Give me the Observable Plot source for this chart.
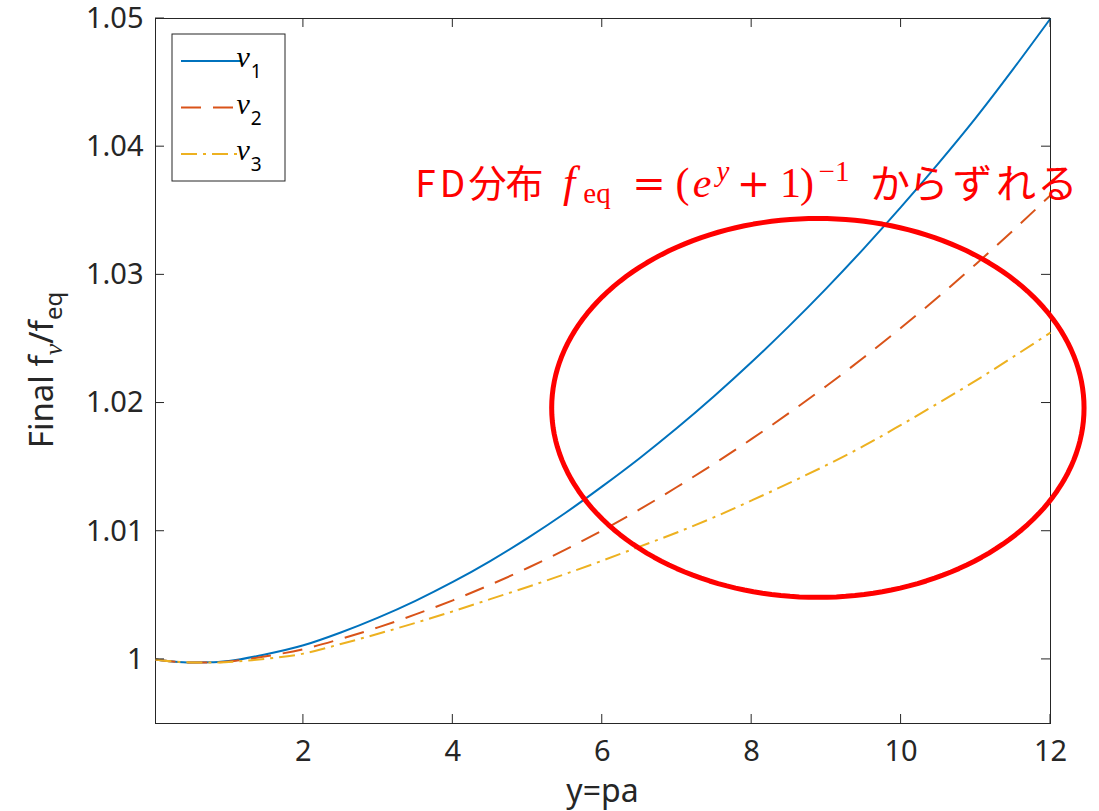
<!DOCTYPE html>
<html><head><meta charset="utf-8">
<script src="https://cdn.jsdelivr.net/npm/d3@7"></script>
<script src="https://cdn.jsdelivr.net/npm/@observablehq/plot@0.6"></script>
<style>html,body{margin:0;padding:0;background:#fff}#chart svg{display:block}</style>
</head><body><div id="chart"></div>
<script>
// ---- data ----
const xs  = [0.02, 0.25, 0.5, 0.75, 1, 1.5, 2, 2.5, 3, 3.5, 4, 4.5, 5, 5.5, 6, 6.5, 7, 7.5, 8, 8.5, 9, 9.5, 10, 10.5, 11, 11.5, 12];
const nu1 = [1.00000, 0.99984, 0.99976, 0.99977, 0.99988, 1.00040, 1.00110, 1.00210, 1.00326, 1.00457, 1.00604, 1.00767, 1.00946, 1.01140, 1.01350, 1.01570, 1.01805, 1.02055, 1.02320, 1.02600, 1.02895, 1.03205, 1.03530, 1.03870, 1.04225, 1.04605, 1.05000];
const nu2 = [1.00000, 0.99984, 0.99976, 0.99976, 0.99984, 1.00025, 1.00080, 1.00160, 1.00250, 1.00351, 1.00461, 1.00582, 1.00713, 1.00854, 1.01006, 1.01170, 1.01345, 1.01528, 1.01720, 1.01922, 1.02133, 1.02355, 1.02587, 1.02829, 1.03083, 1.03347, 1.03621];
const nu3 = [1.00000, 0.99984, 0.99976, 0.99975, 0.99980, 1.00005, 1.00045, 1.00120, 1.00200, 1.00285, 1.00375, 1.00470, 1.00565, 1.00665, 1.00770, 1.00880, 1.00990, 1.01110, 1.01240, 1.01375, 1.01515, 1.01665, 1.01830, 1.02000, 1.02175, 1.02360, 1.02550];
const seriesNames = ["ν1", "ν2", "ν3"];
const seriesSubs  = ["1", "2", "3"];
const seriesColors = ["#0072BD", "#D95319", "#EDB120"];
const seriesDash = [null, "20,12", "16,6,3,6"];
const xTicks = [2, 4, 6, 8, 10, 12];
const xTickLabels = ["2", "4", "6", "8", "10", "12"];
const yTicks = [1, 1.01, 1.02, 1.03, 1.04, 1.05];
const yTickLabels = ["1", "1.01", "1.02", "1.03", "1.04", "1.05"];
const xDomain = [0.02, 12];
const yDomain = [0.995, 1.05];
// highlight ellipse (data units): centre and radii
const ellipseCenter = [8.886, 1.01962];
const ellipseRadii = [3.563, 0.01478];

// ---- tables ----
const allSeries = [nu1, nu2, nu3];
const rows = allSeries.map((vals, k) => xs.map((x, i) => ({series: seriesNames[k], x, y: vals[i]})));
const ellipsePts = d3.range(0, 361, 2).map(a => {
  const t = a * Math.PI / 180;
  return {x: ellipseCenter[0] + ellipseRadii[0] * Math.cos(t), y: ellipseCenter[1] + ellipseRadii[1] * Math.sin(t)};
});

const AX = "#262626";
const SANS = "'Noto Sans', 'Liberation Sans', sans-serif";
const SERIF = "'Liberation Serif', 'DejaVu Serif', serif";
const SERIF2 = "'DejaVu Serif', 'Liberation Serif', serif";
const CJK = "'Noto Sans CJK JP', 'Noto Sans', sans-serif";

const plot = Plot.plot({
  width: 1099, height: 811,
  marginLeft: 155, marginRight: 49, marginTop: 18, marginBottom: 88,
  style: {fontFamily: SANS, fontSize: "29px", color: AX, background: "#fff", overflow: "visible"},
  x: {domain: xDomain, label: null},
  y: {domain: yDomain, label: null},
  marks: [
    Plot.frame({stroke: AX, strokeWidth: 1}),
    Plot.axisX(xTicks, {tickSize: 0, tickPadding: 17, tickFormat: d => xTickLabels[xTicks.indexOf(d)], fontSize: 29, fill: AX, label: null}),
    Plot.axisY(yTicks, {tickSize: 0, tickPadding: 12, tickFormat: d => yTickLabels[yTicks.indexOf(d)], fontSize: 29, fill: AX, label: null}),
    ...rows.map((r, k) => Plot.line(r, {x: "x", y: "y", stroke: seriesColors[k], strokeWidth: 2, strokeDasharray: seriesDash[k], strokeLinecap: "butt", curve: "monotone-x"})),
    Plot.line(ellipsePts, {x: "x", y: "y", stroke: "#FF0000", strokeWidth: 5})
  ]
});
document.getElementById("chart").appendChild(plot);

const svg = d3.select(plot);
const sx = plot.scale("x"), sy = plot.scale("y");
const L = sx.apply(xDomain[0]), R = sx.apply(xDomain[1]);
const B = sy.apply(yDomain[0]), T = sy.apply(yDomain[1]);
const tk = 9;
const g = svg.append("g").attr("stroke", AX).attr("stroke-width", 1);
xTicks.forEach(v => {
  const X = sx.apply(v);
  g.append("line").attr("x1", X).attr("x2", X).attr("y1", B).attr("y2", B - tk);
  g.append("line").attr("x1", X).attr("x2", X).attr("y1", T).attr("y2", T + tk);
});
yTicks.forEach(v => {
  const Y = sy.apply(v);
  g.append("line").attr("x1", L).attr("x2", L + tk).attr("y1", Y).attr("y2", Y);
  g.append("line").attr("x1", R).attr("x2", R - tk).attr("y1", Y).attr("y2", Y);
});

// legend
const lg = svg.append("g");
lg.append("rect").attr("x", 172).attr("y", 34).attr("width", 113).attr("height", 147)
  .attr("fill", "#fff").attr("stroke", AX).attr("stroke-width", 1);
seriesNames.forEach((n, k) => {
  const yy = 61 + k * 46.5;
  lg.append("line").attr("x1", 181).attr("x2", 242).attr("y1", yy).attr("y2", yy)
    .attr("stroke", seriesColors[k]).attr("stroke-width", 2).attr("stroke-dasharray", seriesDash[k]);
  const t = lg.append("text").attr("x", 249).attr("y", yy + 6).attr("fill", "#000");
  t.append("tspan").attr("font-family", SERIF).attr("font-style", "italic").attr("font-size", 30).text("ν");
  t.append("tspan").attr("font-family", SANS).attr("font-size", 19).attr("dy", 11).attr("dx", 1).text(seriesSubs[k]);
});

// axis labels
svg.append("text").attr("x", (L + R) / 2).attr("y", 802).attr("text-anchor", "middle")
  .attr("font-family", SANS).attr("font-size", 32).attr("fill", AX).text("y=pa");
const yl = svg.append("text").attr("transform", "translate(53,370) rotate(-90)").attr("text-anchor", "middle")
  .attr("font-family", SANS).attr("font-size", 33).attr("fill", AX);
yl.append("tspan").text("Final f");
yl.append("tspan").attr("font-family", SERIF).attr("font-style", "italic").attr("font-size", 26).attr("dy", 9).text("ν");
yl.append("tspan").attr("dy", -9).text("/f");
yl.append("tspan").attr("font-size", 24).attr("dy", 9).text("eq");

// annotation
const an = svg.append("text").attr("fill", "#FF0000").attr("y", 197).attr("text-anchor", "middle");
const seg = (txt, x, y, fam, size, italic) => {
  const s = an.append("tspan").attr("x", x).attr("y", y).attr("font-family", fam).attr("font-size", size).text(txt);
  if (italic) s.attr("font-style", "italic");
  return s;
};
seg("F", 425.5, 197, CJK, 37);
seg("D", 452.5, 197, CJK, 37);
seg("分", 487.5, 197, CJK, 38);
seg("布", 524.5, 197, CJK, 38);
seg("f", 569, 197, SERIF, 44, true);
seg("eq", 597, 203, SERIF, 29);
seg("=", 649, 197, SERIF2, 40);
seg("(", 682.5, 197, SERIF, 42);
seg("e", 702, 197, SERIF, 42, true);
seg("y", 723, 181, SERIF, 29, true);
seg("+", 753.5, 197, SERIF2, 40);
seg("1", 790.5, 197, SERIF, 42);
seg(")", 807, 197, SERIF, 42);
seg("−1", 834, 181, SERIF, 29);
seg("か", 890, 198, CJK, 40);
seg("ら", 928.5, 198, CJK, 40);
seg("ず", 972.5, 198, CJK, 40);
seg("れ", 1016, 198, CJK, 40);
seg("る", 1057.5, 198, CJK, 40);
</script></body></html>
